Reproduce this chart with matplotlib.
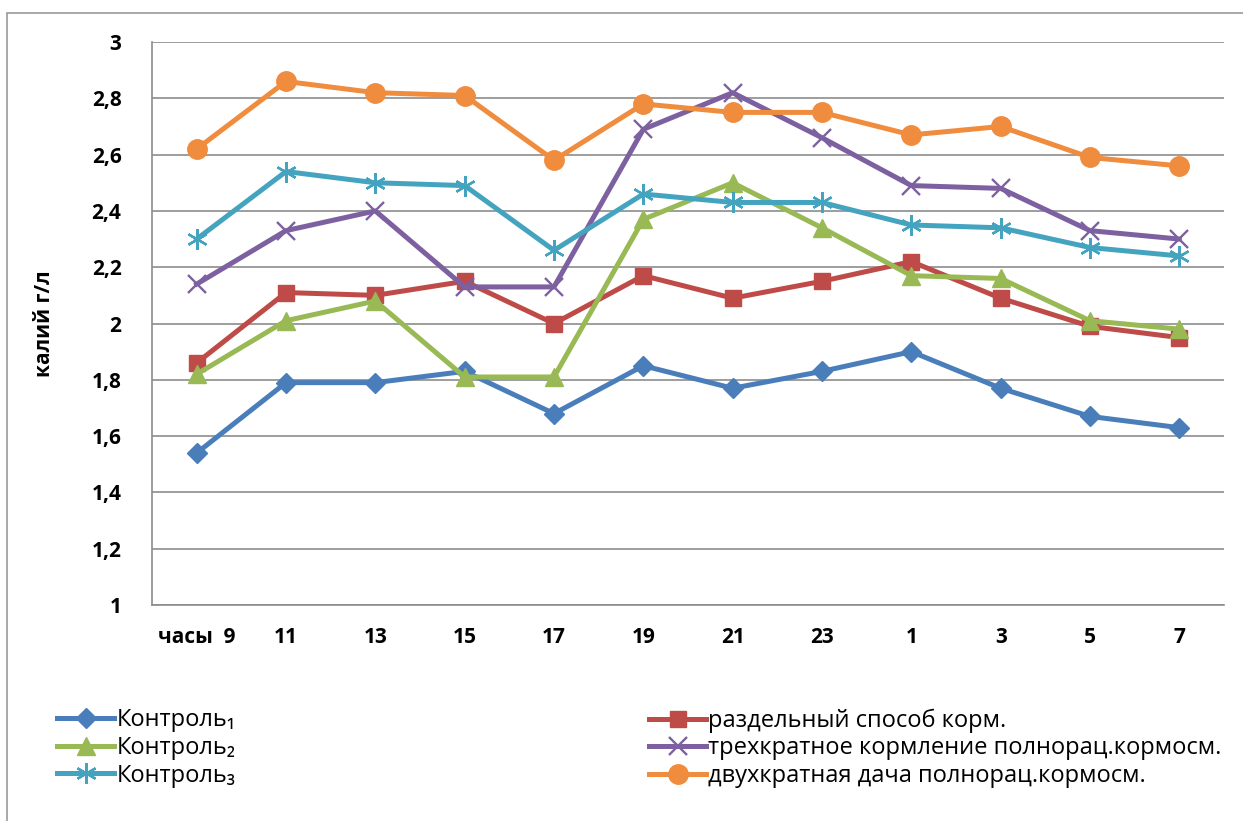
import matplotlib.pyplot as plt
from matplotlib.patches import Rectangle

hours = ['часы  9', '11', '13', '15', '17', '19', '21', '23', '1', '3', '5', '7']

kontrol1 = [1.54, 1.79, 1.79, 1.83, 1.68, 1.85, 1.77, 1.83, 1.90, 1.77, 1.67, 1.63]
razdelny = [1.86, 2.11, 2.10, 2.15, 2.00, 2.17, 2.09, 2.15, 2.22, 2.09, 1.99, 1.95]
kontrol2 = [1.82, 2.01, 2.08, 1.81, 1.81, 2.37, 2.50, 2.34, 2.17, 2.16, 2.01, 1.98]
trehkrat = [2.14, 2.33, 2.40, 2.13, 2.13, 2.69, 2.82, 2.66, 2.49, 2.48, 2.33, 2.30]
kontrol3 = [2.30, 2.54, 2.50, 2.49, 2.26, 2.46, 2.43, 2.43, 2.35, 2.34, 2.27, 2.24]
dvuhkrat = [2.62, 2.86, 2.82, 2.81, 2.58, 2.78, 2.75, 2.75, 2.67, 2.70, 2.59, 2.56]

plt.rcParams['font.family'] = ['Open Sans', 'DejaVu Sans']

fig = plt.figure(figsize=(12.43, 8.21), dpi=100)
ax = fig.add_axes([0.1223, 0.2631, 0.8624, 0.6857])

# chart area border (only left and top edges visible in the original)
fig.patches.append(Rectangle((7 / 1243, -0.1), 1.2, 1 - 13 / 821 + 0.1,
                             transform=fig.transFigure, fill=False,
                             edgecolor='#9a9a9a', linewidth=1.2))

x = list(range(len(hours)))
lw = 3.6
l1, = ax.plot(x, kontrol1, color='#4A7EBB', lw=lw, marker='D', ms=10, label='Контроль₁')
l4, = ax.plot(x, razdelny, color='#BE4B48', lw=lw, marker='s', ms=12, label='раздельный способ корм.')
l2, = ax.plot(x, kontrol2, color='#98B954', lw=lw, marker='^', ms=13, label='Контроль₂')
l5, = ax.plot(x, trehkrat, color='#7D60A0', lw=lw, marker='x', ms=13, mew=1.7,
              label='трехкратное кормление полнорац.кормосм.')
l3, = ax.plot(x, kontrol3, color='#44A4C0', lw=lw, marker=(6, 2, 0), ms=15, mew=1.7,
              label='Контроль₃')
l6, = ax.plot(x, dvuhkrat, color='#F08C3E', lw=lw, marker='o', ms=14, label='двухкратная дача полнорац.кормосм.')

ax.set_xlim(-0.5, len(hours) - 0.5)
ax.set_ylim(1, 3)
ax.set_yticks([1, 1.2, 1.4, 1.6, 1.8, 2, 2.2, 2.4, 2.6, 2.8, 3])
ax.set_yticklabels(['1', '1,2', '1,4', '1,6', '1,8', '2', '2,2', '2,4', '2,6', '2,8', '3'],
                   fontsize=15, fontweight='bold')
ax.set_xticks(x)
ax.set_xticklabels(hours, fontsize=15, fontweight='bold')
ax.tick_params(axis='both', length=0)
ax.tick_params(axis='y', pad=22)
ax.tick_params(axis='x', pad=16)
ax.grid(axis='y', color='#8c8c8c', lw=1.2)
ax.set_axisbelow(True)
for s in ['top', 'right']:
    ax.spines[s].set_visible(False)
ax.spines['left'].set_color('#8c8c8c')
ax.spines['bottom'].set_color('#8c8c8c')
ax.spines['left'].set_linewidth(1.2)
ax.spines['bottom'].set_linewidth(1.2)

ax.set_ylabel('калий г/л', fontsize=15, fontweight='bold', labelpad=26)

leg_kw = dict(frameon=False, fontsize=17, handlelength=2.4, handletextpad=0.1,
              labelspacing=0.15, borderaxespad=0)
fig.legend(handles=[l1, l2, l3], loc='upper left', bbox_to_anchor=(48 / 1243, 1 - 699 / 821), **leg_kw)
fig.legend(handles=[l4, l5, l6], loc='upper left', bbox_to_anchor=(640 / 1243, 1 - 699 / 821), **leg_kw)

plt.savefig('out.png', dpi=100)
